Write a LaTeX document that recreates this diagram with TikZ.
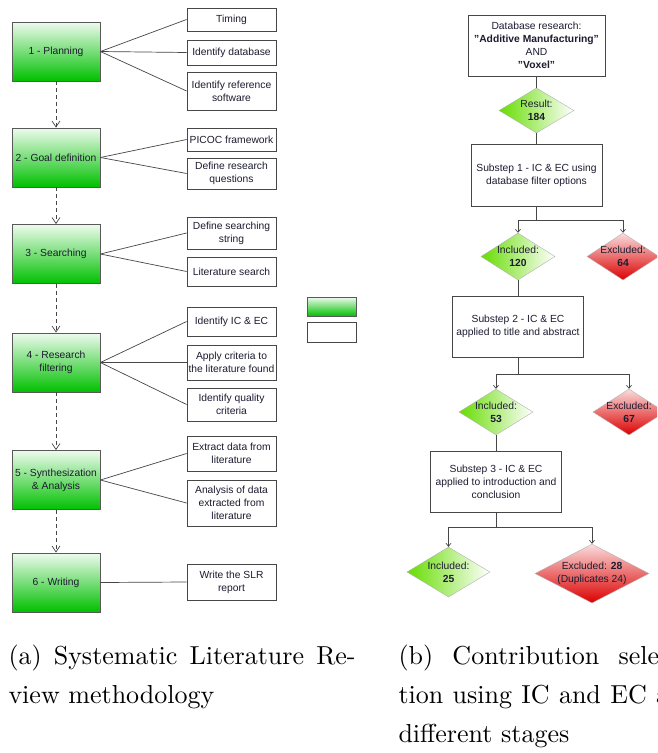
\documentclass[tikz,border=0pt]{standalone}
\usepackage{fontspec}
\setsansfont{Liberation Sans}
\usetikzlibrary{shapes.geometric,arrows.meta}
\definecolor{stagegreen}{RGB}{0,192,0}
\definecolor{stagelight}{RGB}{238,251,238}
\definecolor{inclgreen}{RGB}{102,221,0}
\definecolor{exclred}{RGB}{220,0,0}
\definecolor{excllight}{RGB}{250,220,220}
\definecolor{boxline}{RGB}{70,70,70}
\definecolor{txt}{RGB}{28,28,48}
\newcommand{\dq}{\symbol{34}}

\begin{document}
\begin{tikzpicture}[x=1pt,y=-1pt,
		every node/.style={font=\sffamily\fontsize{10.3}{13}\selectfont, text=txt},
		stage/.style={draw=black!65, line width=0.8pt, top color=stagelight, bottom color=stagegreen, minimum width=88pt, minimum height=59pt, align=center, inner sep=1pt},
		task/.style={draw=boxline, line width=0.8pt, fill=white, minimum width=89pt, align=center, inner sep=1pt},
		stepbox/.style={draw=boxline, line width=0.8pt, fill=white, minimum width=131pt, minimum height=61pt, align=center, inner sep=1pt},
		incl/.style={diamond, draw=black!30, left color=inclgreen, right color=white, align=center, inner sep=-10pt},
		excl/.style={diamond, draw=black!30, top color=excllight, bottom color=exclred, align=center, inner sep=-10pt},
		link/.style={draw=boxline, line width=0.7pt},
		flow/.style={link, -{Straight Barb[length=3pt,width=5pt]}},
		phase/.style={link, dash pattern=on 4pt off 3pt, -{Straight Barb[length=6pt,width=8pt]}},
		subcap/.style={anchor=north west, inner sep=0pt, scale=2.6, transform shape, text=black, font=\rmfamily\fontsize{10}{15}\selectfont}]
	\useasboundingbox (0,0) rectangle (657,753);
	\clip (0,0) rectangle (657,753);
	\fill[white] (0,0) rectangle (657,753);

	\node[stage] (p1) at (56,51.5) {1 - Planning};
	\node[stage] (p2) at (56,157.5) {2 - Goal definition};
	\node[stage] (p3) at (56,254) {3 - Searching};
	\node[stage] (p4) at (56,362.5) {4 - Research\\filtering};
	\node[stage] (p5) at (56,480) {5 - Synthesization\\\& Analysis};
	\node[stage] (p6) at (56,582.5) {6 - Writing};

	\node[task, minimum height=23pt] (t11) at (231.5,19.5) {Timing};
	\node[task, minimum height=25pt] (t12) at (231.5,52.5) {Identify database};
	\node[task, minimum height=38pt] (t13) at (231.5,91) {Identify reference\\software};
	\node[task, minimum height=23pt] (t21) at (231.5,139.5) {PICOC framework};
	\node[task, minimum height=31pt] (t22) at (231.5,173.5) {Define research\\questions};
	\node[task, minimum height=32pt] (t31) at (231.5,233) {Define searching\\string};
	\node[task, minimum height=29pt] (t32) at (231.5,271.5) {Literature search};
	\node[task, minimum height=29pt] (t41) at (231.5,321.5) {Identify IC \& EC};
	\node[task, minimum height=35pt] (t42) at (231.5,362.5) {Apply criteria to\\the literature found};
	\node[task, minimum height=33pt] (t43) at (231.5,404.5) {Identify quality\\criteria};
	\node[task, minimum height=35pt] (t51) at (231.5,453.5) {Extract data from\\literature};
	\node[task, minimum height=46pt] (t52) at (231.5,503) {Analysis of data\\extracted from\\literature};
	\node[task, minimum height=36pt] (t61) at (231.5,582) {Write the SLR\\report};

	\node[stage, minimum width=49pt, minimum height=19pt] (lg1) at (331.5,306.5) {};
	\node[task, minimum width=49pt, minimum height=20pt] (lg2) at (331.5,332) {};

	\draw[link] (p1.east) -- (t11.west);
	\draw[link] (p1.east) -- (t12.west);
	\draw[link] (p1.east) -- (t13.west);
	\draw[link] (p2.east) -- (t21.west);
	\draw[link] (p2.east) -- (t22.west);
	\draw[link] (p3.east) -- (t31.west);
	\draw[link] (p3.east) -- (t32.west);
	\draw[link] (p4.east) -- (t41.west);
	\draw[link] (p4.east) -- (t42.west);
	\draw[link] (p4.east) -- (t43.west);
	\draw[link] (p5.east) -- (t51.west);
	\draw[link] (p5.east) -- (t52.west);
	\draw[link] (p6.east) -- (t61.west);
	\draw[phase] (p1.south) -- (p2.north);
	\draw[phase] (p2.south) -- (p3.north);
	\draw[phase] (p3.south) -- (p4.north);
	\draw[phase] (p4.south) -- (p5.north);
	\draw[phase] (p5.south) -- (p6.north);

	\node[stepbox, minimum width=137pt] (db) at (536.5,45.5) {Database research:\\\textbf{\dq Additive Manufacturing\dq}\\AND\\\textbf{\dq Voxel\dq}};
	\node[incl, minimum width=75pt, minimum height=45pt] (res) at (536.5,110.5) {Result:\\\textbf{184}};
	\node[stepbox, minimum height=62pt] (s1) at (536.5,175) {Substep 1 - IC \& EC using\\database filter options};
	\node[incl, minimum width=74pt, minimum height=47pt] (in1) at (518,256.5) {Included:\\\textbf{120}};
	\node[excl, minimum width=72pt, minimum height=47pt] (ex1) at (623,256.5) {Excluded:\\\textbf{64}};
	\node[stepbox] (s2) at (518,326.5) {Substep 2 - IC \& EC\\applied to title and abstract};
	\node[incl, minimum width=74pt, minimum height=46pt] (in2) at (496,412) {Included:\\\textbf{53}};
	\node[excl, minimum width=72pt, minimum height=46pt] (ex2) at (629,412) {Excluded:\\\textbf{67}};
	\node[stepbox] (s3) at (496,481.5) {Substep 3 - IC \& EC\\applied to introduction and\\conclusion};
	\node[incl, minimum width=83pt, minimum height=50pt] (in3) at (448.5,572) {Included:\\\textbf{25}};
	\node[excl, minimum width=114pt, minimum height=59pt] (ex3) at (592,573.5) {Excluded: \textbf{28}\\(Duplicates 24)};

	\draw[link] (db.south) -- (res.north);
	\draw[link] (res.south) -- (s1.north);
	\draw[flow] (s1.south) -- ++(0,14) coordinate (j1) -| (in1.north);
	\draw[flow] (j1) -| (ex1.north);
	\draw[link] (in1.south) -- (s2.north);
	\draw[flow] (s2.south) -- ++(0,17) coordinate (j2) -| (in2.north);
	\draw[flow] (j2) -| (ex2.north);
	\draw[link] (in2.south) -- (s3.north);
	\draw[flow] (s3.south) -- ++(0,15) coordinate (j3) -| (in3.north);
	\draw[flow] (j3) -| (ex3.north);

	\node[subcap] (capa) at (8,644) {\parbox[t]{133.5pt}{(a) Systematic Literature Re-\linebreak view methodology}};
	\node[subcap] (capb) at (398,644) {\parbox[t]{108pt}{(b) Contribution selec-\linebreak tion using IC and EC at\linebreak different stages}};
\end{tikzpicture}
\end{document}
